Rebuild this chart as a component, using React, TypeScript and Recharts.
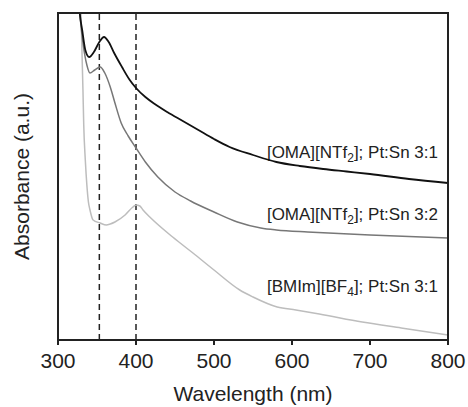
import React from 'react';
import { LineChart, Line, XAxis, YAxis, ReferenceLine } from 'recharts';

// wavelength (nm) / absorbance (a.u., arbitrary offset scale)
const omaPt31Nm = [326, 328, 331, 335, 340, 346, 353, 359, 365, 372, 382, 392, 400, 412, 424, 440, 460, 480, 500, 520, 550, 580, 610, 640, 670, 700, 750, 800];
const omaPt31Abs = [345, 326, 310, 290, 283, 288, 298, 303, 298, 287, 273, 260, 252, 243, 236, 228, 219, 210, 201, 193, 185, 178, 174, 171, 168.5, 166, 161, 157];

const omaPt32Nm = [326, 328, 332, 337, 341, 347, 354, 360, 367, 373, 381, 390, 400, 412, 428, 450, 470, 500, 530, 560, 580, 620, 660, 700, 750, 800];
const omaPt32Abs = [345, 326, 297, 275, 267, 270, 273, 267, 253, 237, 217, 204, 192, 178, 163, 148, 139, 128, 118, 112, 110, 108, 106.5, 105, 103.5, 102];

const bmimNm = [326, 329.5, 332, 333, 335, 337, 339, 341, 345, 354, 362, 367, 373, 386, 396, 400, 405, 409, 419, 447, 473, 500, 533, 550, 581, 605, 635, 690, 740, 800];
const bmimAbs = [380, 326, 250, 215, 180, 155, 138, 130, 120, 117, 115, 116, 118, 125, 133, 135, 134, 130, 122, 103, 87, 70, 50, 43, 33, 30, 26, 18, 12, 5];

const xTicks = [300, 400, 500, 600, 700, 800];
const peakMarkers = [353, 400];

const toRows = (nm: number[], abs: number[]) => nm.map((w, i) => ({ nm: w, abs: abs[i] }));

const FONT = '"Liberation Sans", Arial, Helvetica, sans-serif';
const AXIS = { stroke: '#222', strokeWidth: 2 };

function Annotation({ x, y, main, sub, rest }: { x: number; y: number; main: string; sub: string; rest: string }) {
  return (
    <text x={x} y={y} textAnchor="end" fontFamily={FONT} fontSize={17} fill="#222">
      {main}
      <tspan dy={4} fontSize={12}>{sub}</tspan>
      <tspan dy={-4}>{rest}</tspan>
    </text>
  );
}

export default function App() {
  return (
    <div style={{ position: 'absolute', left: 0, top: 0, width: 468, height: 407, background: '#fff' }}>
      <LineChart width={468} height={407} margin={{ top: 13, right: 20, bottom: 0, left: 0 }}>
        <XAxis
          type="number"
          dataKey="nm"
          domain={[300, 800]}
          ticks={xTicks}
          allowDataOverflow
          height={67}
          tickSize={5}
          tickMargin={8}
          axisLine={AXIS}
          tickLine={AXIS}
          tick={{ fontSize: 21, fill: '#222', fontFamily: FONT }}
          label={{ value: 'Wavelength (nm)', position: 'insideBottom', offset: 6, fontSize: 21, fill: '#222', fontFamily: FONT }}
        />
        <YAxis
          type="number"
          domain={[0, 327]}
          allowDataOverflow
          width={58}
          tick={false}
          tickLine={false}
          axisLine={AXIS}
          label={{
            value: 'Absorbance (a.u.)',
            angle: -90,
            position: 'insideLeft',
            offset: 22,
            fontSize: 21,
            fill: '#222',
            fontFamily: FONT,
            style: { textAnchor: 'middle' },
          }}
        />
        {peakMarkers.map((w) => (
          <ReferenceLine key={w} x={w} stroke="#222" strokeWidth={1.5} strokeDasharray="6 4" />
        ))}
        <Line data={toRows(bmimNm, bmimAbs)} dataKey="abs" type="monotone" stroke="#bdbdbd" strokeWidth={1.5} dot={false} isAnimationActive={false} />
        <Line data={toRows(omaPt32Nm, omaPt32Abs)} dataKey="abs" type="monotone" stroke="#777" strokeWidth={1.5} dot={false} isAnimationActive={false} />
        <Line data={toRows(omaPt31Nm, omaPt31Abs)} dataKey="abs" type="monotone" stroke="#111" strokeWidth={1.8} dot={false} isAnimationActive={false} />
        <Annotation x={438} y={158} main="[OMA][NTf" sub="2" rest="]; Pt:Sn 3:1" />
        <Annotation x={438} y={220} main="[OMA][NTf" sub="2" rest="]; Pt:Sn 3:2" />
        <Annotation x={438} y={292} main="[BMIm][BF" sub="4" rest="]; Pt:Sn 3:1" />
      </LineChart>
      {/* plot frame */}
      <div
        style={{
          position: 'absolute',
          left: 57,
          top: 12,
          width: 392,
          height: 329,
          boxSizing: 'border-box',
          border: '2px solid #222',
          pointerEvents: 'none',
        }}
      />
    </div>
  );
}
